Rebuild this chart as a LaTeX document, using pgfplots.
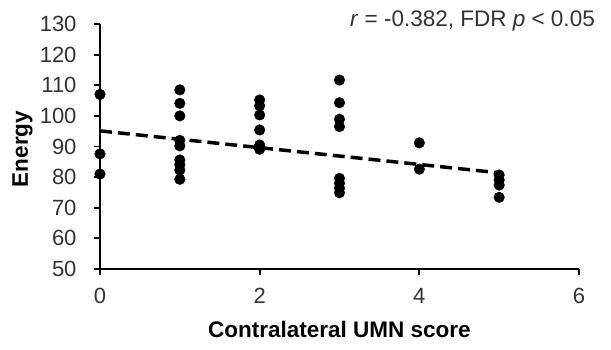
\documentclass[border=0pt]{standalone}
\usepackage{fontspec}
\setmainfont{Liberation Sans}
\usepackage{pgfplots}
\pgfplotsset{compat=1.18}
\begin{document}
\begin{tikzpicture}[x=1bp,y=1bp]
\begin{axis}[
  scale only axis,
  width=479bp, height=245bp,
  xmin=0, xmax=6, ymin=50, ymax=130,
  xtick={0,2,4,6}, ytick={50,60,...,130},
  axis lines*=left,
  axis line style={line width=1.8bp, black},
  tick align=outside,
  major tick length=6bp,
  tick style={line width=1.8bp, black},
  /pgf/number format/assume math mode=true,
  tick label style={font=\fontsize{22bp}{26bp}\selectfont, text=black!80},
  xticklabel style={yshift=-10bp},
  yticklabel style={xshift=-14bp},
  xlabel={Contralateral UMN score},
  ylabel={Energy},
  label style={font=\fontsize{22.5bp}{27bp}\selectfont\bfseries},
  xlabel style={at={(axis description cs:0.5,-0.2776)}, anchor=base},
  ylabel style={at={(axis description cs:-0.162,0.49)}, anchor=center},
  clip=false,
]
\addplot[only marks, mark=*, mark size=5.3bp, black] coordinates {
  (0,107.0) (0,87.6) (0,81.0)
  (1,108.5) (1,104.1) (1,100.0) (1,92.0) (1,90.2) (1,85.6) (1,84.0) (1,82.3) (1,79.3)
  (2,105.2) (2,103.3) (2,100.3) (2,95.4) (2,90.5) (2,89.1)
  (3,111.7) (3,104.3) (3,98.9) (3,96.5) (3,79.6) (3,78.0) (3,76.4) (3,74.9)
  (4,91.2) (4,82.6)
  (5,80.7) (5,79.1) (5,77.4) (5,73.4)
};
\addplot[black, line width=3.5bp, dash pattern=on 12bp off 6bp] coordinates {(0,95.1) (5,81.4)};
\node[anchor=base east, inner sep=0pt, font=\fontsize{22.5bp}{27bp}\selectfont, text=black!80]
  at (axis description cs:1.0334,0.9878) {\textit{r} = -0.382, FDR \textit{p} < 0.05};
\end{axis}
\path[use as bounding box] (-100bp,-81bp) rectangle (511bp,269bp);
\end{tikzpicture}
\end{document}
